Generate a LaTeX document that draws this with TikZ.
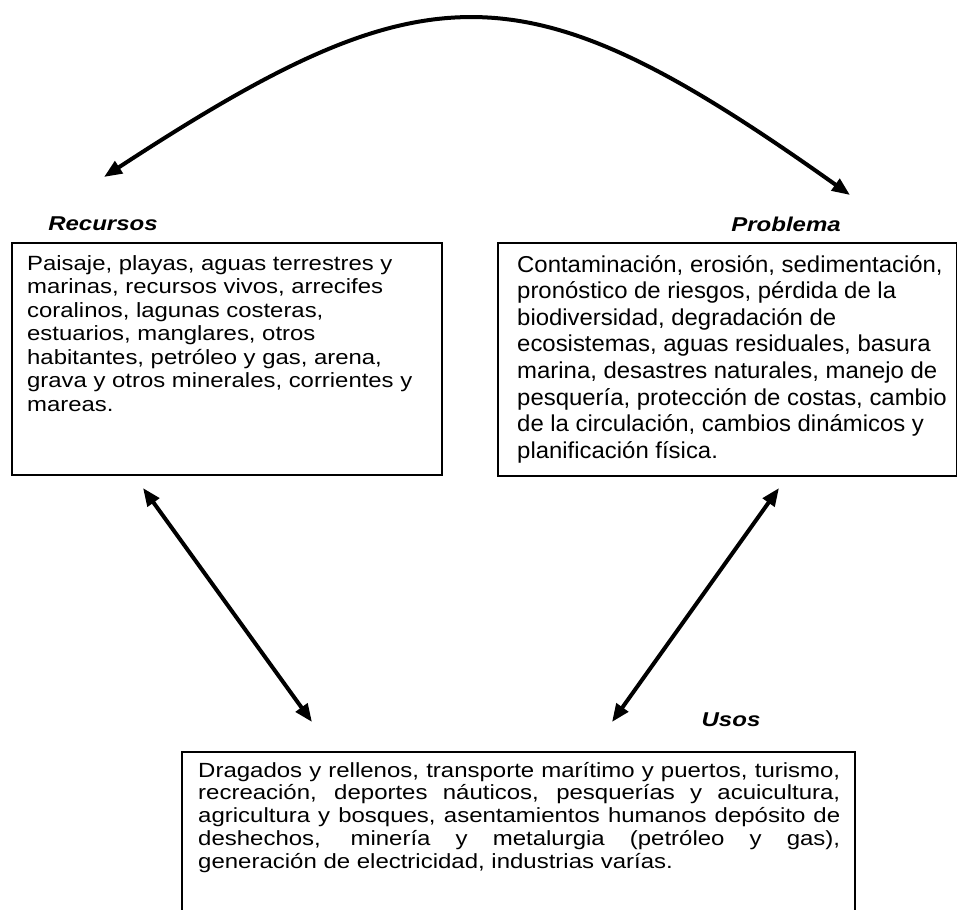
\documentclass[tikz,border=0pt]{standalone}
\usepackage{fontspec}
\setmainfont{Liberation Sans}
\newfontfamily\fR[FakeStretch=1.16]{Liberation Sans}
\newfontfamily\fP[FakeStretch=1.04]{Liberation Sans}
\newfontfamily\fU[FakeStretch=1.17]{Liberation Sans}
\newfontfamily\fL[FakeStretch=1.2]{Liberation Sans}
\usetikzlibrary{arrows.meta}
\begin{document}
\begin{tikzpicture}[x=1pt,y=-1pt,
  frame/.style={draw=black, line width=2pt, inner sep=0pt, anchor=north west},
  lbl/.style={anchor=base, inner sep=0pt, font=\fL\fontsize{20}{24}\selectfont\bfseries\itshape},
  txt/.style={anchor=base west, inner sep=0pt},
  link/.style={line width=4pt, draw=black, {Triangle[length=18pt,width=14pt]}-{Triangle[length=18pt,width=14pt]}}]
\useasboundingbox[fill=white] (0,0) rectangle (957,909);

% boxes
\node[frame, minimum width=430pt, minimum height=232pt] (rbox) at (11,242) {};
\node[frame, minimum width=459pt, minimum height=233pt] (pbox) at (497,242) {};
\coordinate (ubl) at (182,920);
\coordinate (utl) at (182,752);
\coordinate (utr) at (855,752);
\coordinate (ubr) at (855,920);
\draw[line width=2pt] (ubl) -- (utl) -- (utr) -- (ubr);

% labels
\node[lbl] (rlab) at (103,230) {Recursos};
\node[lbl] (plab) at (786,231.5) {Problema};
\node[lbl] (ulab) at (731,726) {Usos};

% texts
\node[txt] (rtxt) at (27,270) {\begin{minipage}[t]{460pt}\fR\fontsize{20.6}{23.5}\selectfont
Paisaje, playas, aguas terrestres y\\
marinas, recursos vivos, arrecifes\\
coralinos, lagunas costeras,\\
estuarios, manglares, otros\\
habitantes, petróleo y gas, arena,\\
grava y otros minerales, corrientes y\\
mareas.\end{minipage}};

\node[txt] (ptxt) at (517,272) {\begin{minipage}[t]{460pt}\fP\fontsize{23}{26.6}\selectfont
Contaminación, erosión, sedimentación,\\
pronóstico de riesgos, pérdida de la\\
biodiversidad, degradación de\\
ecosistemas, aguas residuales, basura\\
marina, desastres naturales, manejo de\\
pesquería, protección de costas, cambio\\
de la circulación, cambios dinámicos y\\
planificación física.\end{minipage}};

\node[txt] (utxt) at (198,777) {\begin{minipage}[t]{642pt}\fU\fontsize{20.5}{22.9}\selectfont
\makebox[\linewidth][s]{Dragados y rellenos, transporte marítimo y puertos, turismo,}\\
\makebox[\linewidth][s]{recreación, deportes náuticos, pesquerías y acuicultura,}\\
\makebox[\linewidth][s]{agricultura y bosques, asentamientos humanos depósito de}\\
\makebox[\linewidth][s]{deshechos, minería y metalurgia (petróleo y gas),}\\
generación de electricidad, industrias varías.\end{minipage}};

% connectors
\coordinate (a1) at (104,177);
\coordinate (a2) at (850,195);
\draw[link] (a1) .. controls (430,-36) and (525,-36) .. (a2);
\coordinate (b1) at (143,488);
\coordinate (b2) at (312,722);
\draw[link] (b1) -- (b2);
\coordinate (c1) at (779,488);
\coordinate (c2) at (612,722);
\draw[link] (c1) -- (c2);
\end{tikzpicture}
\end{document}
